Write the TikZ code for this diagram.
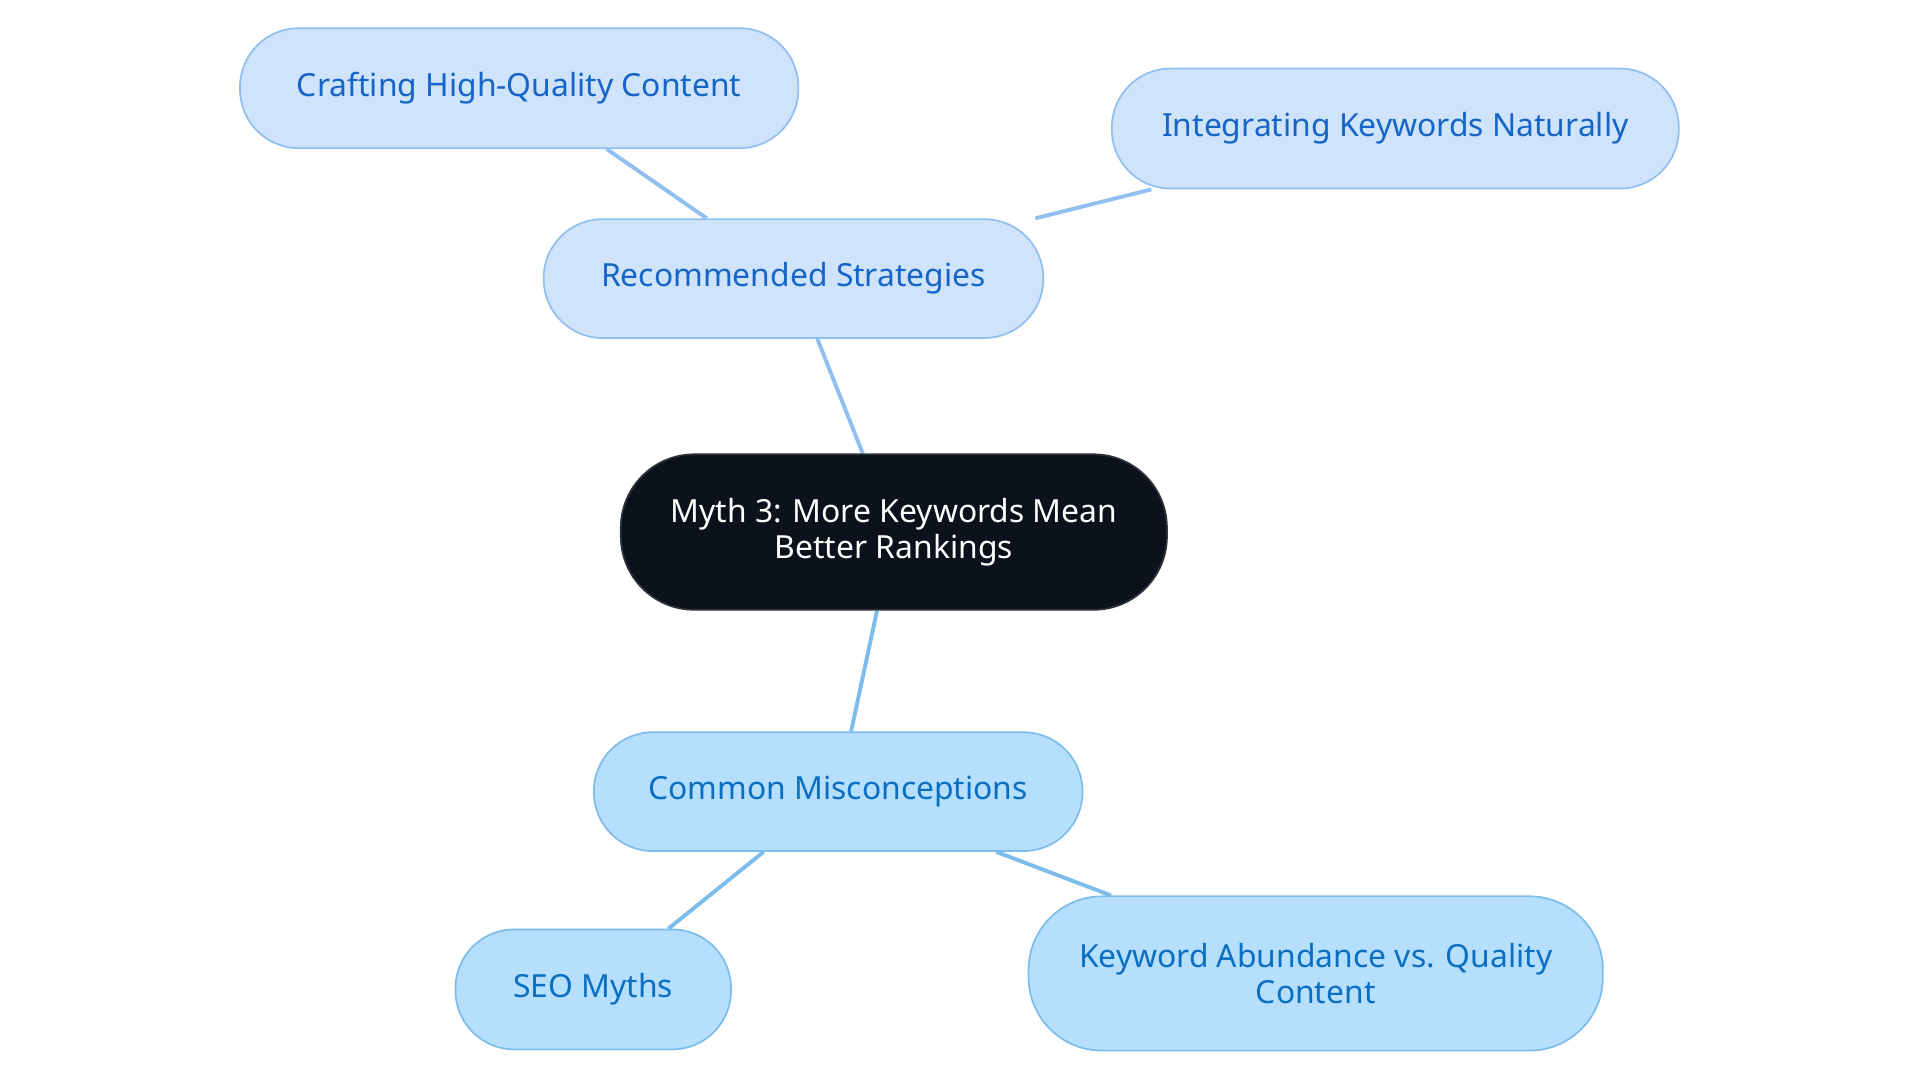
\documentclass[tikz,border=0pt]{standalone}
\usepackage{fontspec}
\setmainfont{Noto Sans}
\usetikzlibrary{backgrounds}
\definecolor{darkbg}{HTML}{0B121C}
\definecolor{bfill}{HTML}{CFE3FA}
\definecolor{bdraw}{HTML}{90BFF0}
\definecolor{btext}{HTML}{1565C8}
\definecolor{cfill}{HTML}{B5DFFD}
\definecolor{cdraw}{HTML}{7DBDEB}
\definecolor{ctext}{HTML}{0A6FC2}
\begin{document}
\begin{tikzpicture}[x=0.5pt,y=-0.5pt,
  box/.style={rounded corners=24pt,line width=0.7pt,inner sep=0pt,align=center,font=\fontsize{13}{14.5}\selectfont},
  blue/.style={box,fill=bfill,draw=bdraw,text=btext},
  cyan/.style={box,fill=cfill,draw=cdraw,text=ctext},
  link/.style={line width=1.6pt}]
\useasboundingbox (0,0) rectangle (1568,884);
\node[box,fill=darkbg,draw=darkbg!70!gray,text=white,minimum width=223pt,minimum height=63.5pt,rounded corners=30pt] (c) at (730,434.5) {Myth 3: More Keywords Mean\\Better Rankings};
\node[blue,minimum width=204pt,minimum height=48.5pt] (rs) at (648,227.5) {Recommended Strategies};
\node[blue,minimum width=228pt,minimum height=49pt] (cr) at (424,72) {Crafting High-Quality Content};
\node[blue,minimum width=231.5pt,minimum height=49pt] (in) at (1139.5,105) {Integrating Keywords Naturally};
\node[cyan,minimum width=199.5pt,minimum height=48.5pt] (cm) at (684.5,646.5) {Common Misconceptions};
\node[cyan,minimum width=112.5pt,minimum height=49pt] (seo) at (484.5,808) {SEO Myths};
\node[cyan,minimum width=234.5pt,minimum height=63pt,rounded corners=30pt] (ka) at (1074.5,795) {Keyword Abundance vs. Quality\\Content};
\begin{scope}[on background layer]
\draw[link,bdraw] (c) -- (rs);
\draw[link,bdraw] (rs) -- (cr);
\draw[link,bdraw] (rs) -- (in);
\draw[link,cdraw] (c) -- (cm);
\draw[link,cdraw] (cm) -- (seo);
\draw[link,cdraw] (cm) -- (ka);
\end{scope}
\end{tikzpicture}
\end{document}
